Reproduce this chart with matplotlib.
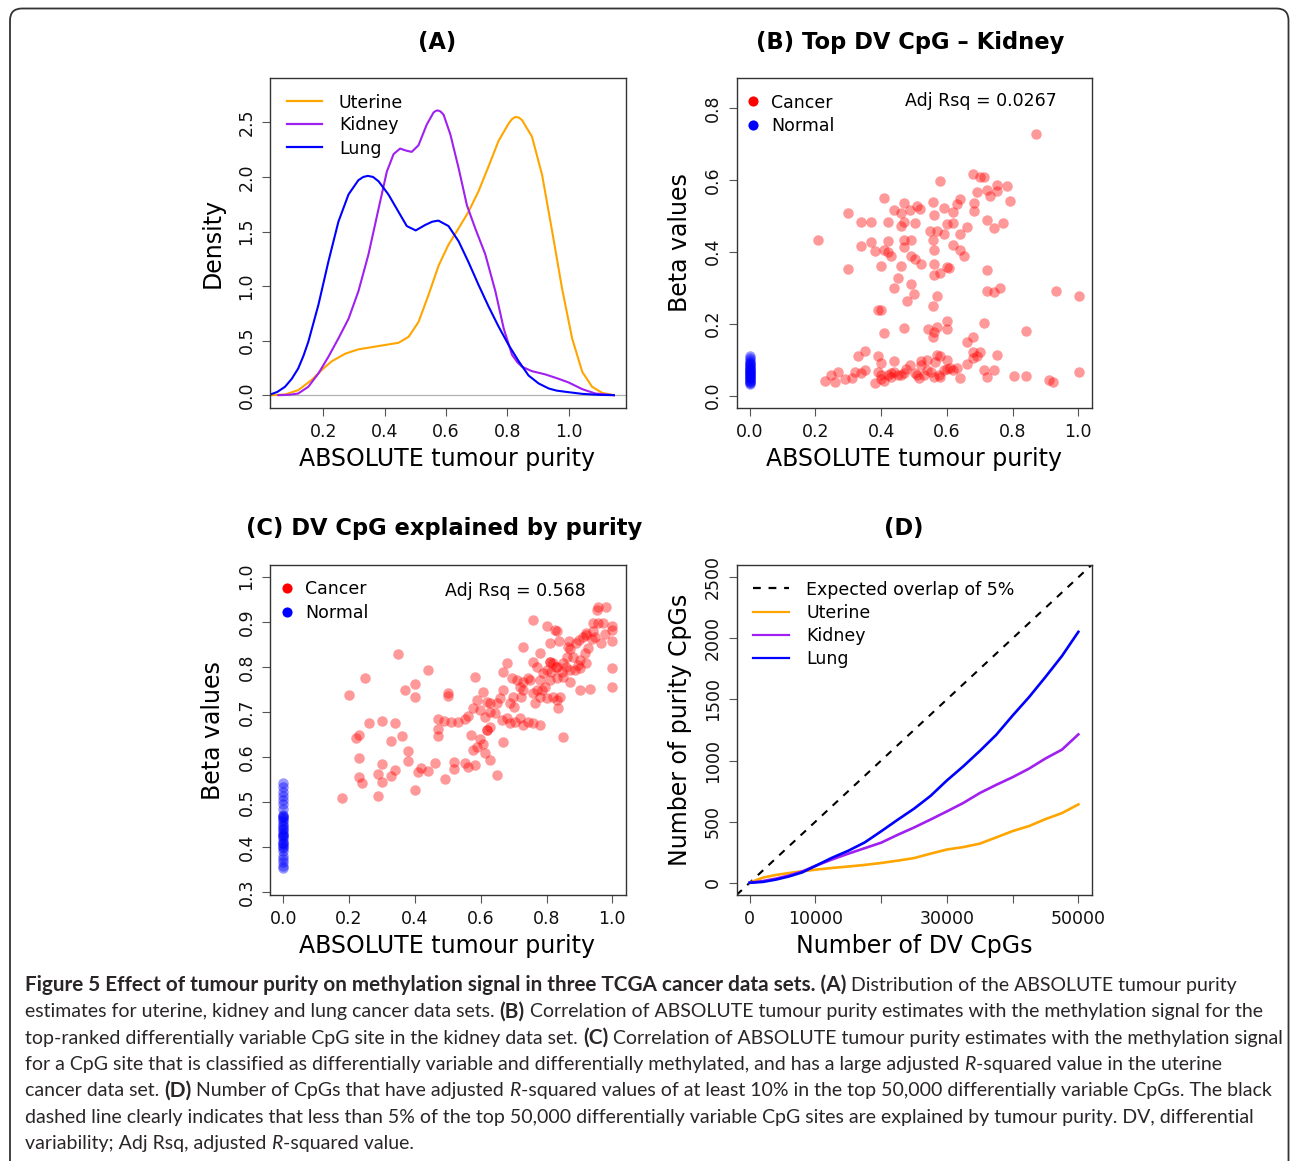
import matplotlib
matplotlib.use("Agg")
import matplotlib.pyplot as plt
from matplotlib.lines import Line2D
from matplotlib.patches import FancyBboxPatch
from matplotlib.transforms import IdentityTransform
from matplotlib.font_manager import FontProperties

plt.rcParams['font.family'] = ['DejaVu Sans']

W, H, DPI = 1290, 1161, 100

# ---------------- data ----------------
# (A) density of ABSOLUTE purity
lung_x = [0.026, 0.050, 0.075, 0.097, 0.118, 0.135, 0.151, 0.184, 0.216, 0.249, 0.282, 0.314, 0.330,
          0.345, 0.362, 0.380, 0.412, 0.445, 0.472, 0.501, 0.532, 0.555, 0.575, 0.608, 0.641, 0.673,
          0.706, 0.739, 0.771, 0.804, 0.837, 0.869, 0.902, 0.935, 0.960, 0.989, 1.044, 1.098, 1.147]
lung_d = [0.005, 0.030, 0.077, 0.150, 0.245, 0.360, 0.49, 0.83, 1.22, 1.59, 1.84, 1.97, 2.00,
          2.01, 2.00, 1.96, 1.84, 1.68, 1.55, 1.51, 1.56, 1.59, 1.60, 1.55, 1.41, 1.22,
          1.01, 0.81, 0.63, 0.46, 0.31, 0.18, 0.107, 0.061, 0.042, 0.031, 0.012, 0.003, 0.0]
kidney_x = [0.053, 0.090, 0.118, 0.151, 0.184, 0.216, 0.249, 0.282, 0.314, 0.347, 0.380, 0.407, 0.429,
            0.450, 0.472, 0.488, 0.510, 0.537, 0.559, 0.566, 0.573, 0.582, 0.592, 0.614, 0.641,
            0.668, 0.695, 0.728, 0.761, 0.788, 0.815, 0.833, 0.848, 0.880, 0.924, 0.967, 1.000, 1.044,
            1.087, 1.147]
kidney_d = [0.0, 0.004, 0.015, 0.077, 0.20, 0.35, 0.52, 0.70, 0.95, 1.29, 1.71, 2.05, 2.21,
            2.26, 2.24, 2.23, 2.29, 2.48, 2.59, 2.605, 2.61, 2.60, 2.57, 2.39, 2.08,
            1.74, 1.53, 1.29, 0.95, 0.61, 0.37, 0.30, 0.26, 0.22, 0.19, 0.15, 0.116, 0.055,
            0.015, 0.0]
uterine_x = [0.031, 0.075, 0.118, 0.162, 0.200, 0.227, 0.271, 0.314, 0.358, 0.401, 0.445, 0.478,
             0.510, 0.543, 0.576, 0.608, 0.641, 0.673, 0.706, 0.739, 0.771, 0.804, 0.815, 0.826,
             0.837, 0.848, 0.880, 0.913, 0.946, 0.978, 1.011, 1.044, 1.076, 1.109, 1.147]
uterine_d = [0.0, 0.006, 0.046, 0.14, 0.245, 0.31, 0.38, 0.42, 0.44, 0.46, 0.48, 0.535,
             0.67, 0.92, 1.19, 1.38, 1.53, 1.68, 1.87, 2.10, 2.33, 2.49, 2.53, 2.55,
             2.545, 2.52, 2.37, 2.02, 1.50, 0.98, 0.52, 0.214, 0.077, 0.021, 0.0]

# (B) top DV CpG - kidney : (purity, beta)
b_cancer = [
    (0.870, 0.728), (0.680, 0.617), (0.701, 0.608), (0.712, 0.608), (0.580, 0.598), (0.752, 0.586),
    (0.782, 0.583), (0.722, 0.573), (0.752, 0.570), (0.691, 0.566), (0.730, 0.555), (0.641, 0.548),
    (0.792, 0.541), (0.410, 0.550), (0.471, 0.535), (0.509, 0.527), (0.519, 0.518), (0.439, 0.515),
    (0.460, 0.509), (0.489, 0.517), (0.559, 0.537), (0.590, 0.522), (0.630, 0.532), (0.620, 0.510),
    (0.682, 0.535), (0.682, 0.512), (0.300, 0.509), (0.340, 0.483), (0.370, 0.483), (0.420, 0.482),
    (0.471, 0.482), (0.460, 0.472), (0.502, 0.480), (0.560, 0.501), (0.600, 0.476), (0.620, 0.480),
    (0.661, 0.469), (0.722, 0.487), (0.772, 0.480), (0.742, 0.465), (0.549, 0.458), (0.569, 0.458),
    (0.590, 0.448), (0.641, 0.450), (0.559, 0.432), (0.208, 0.434), (0.370, 0.427), (0.340, 0.416),
    (0.420, 0.431), (0.471, 0.434), (0.491, 0.432), (0.470, 0.414), (0.381, 0.402), (0.410, 0.405),
    (0.420, 0.399), (0.430, 0.389), (0.491, 0.389), (0.502, 0.380), (0.560, 0.406), (0.620, 0.419),
    (0.641, 0.406), (0.651, 0.389), (0.521, 0.367), (0.560, 0.367), (0.600, 0.357), (0.605, 0.355),
    (0.460, 0.359), (0.400, 0.359), (0.300, 0.352), (0.722, 0.348), (0.580, 0.341), (0.560, 0.336),
    (0.450, 0.327), (0.491, 0.311), (0.440, 0.300), (0.501, 0.283), (0.571, 0.278), (0.480, 0.263),
    (0.722, 0.290), (0.742, 0.289), (0.762, 0.300), (0.932, 0.292), (1.002, 0.276), (0.559, 0.248),
    (0.390, 0.239), (0.400, 0.238), (0.600, 0.207), (0.712, 0.203), (0.543, 0.186), (0.571, 0.190),
    (0.600, 0.186), (0.560, 0.176), (0.559, 0.162), (0.471, 0.187), (0.410, 0.174), (0.840, 0.181),
    (0.680, 0.162), (0.661, 0.148), (0.350, 0.125), (0.330, 0.110), (0.390, 0.110), (0.440, 0.097),
    (0.400, 0.091), (0.521, 0.097), (0.541, 0.100), (0.569, 0.113), (0.580, 0.111), (0.563, 0.093),
    (0.600, 0.099), (0.681, 0.121), (0.701, 0.122), (0.691, 0.109), (0.678, 0.104), (0.752, 0.114),
    (0.229, 0.042), (0.247, 0.058), (0.261, 0.039), (0.269, 0.065), (0.289, 0.046), (0.312, 0.048),
    (0.320, 0.067), (0.340, 0.063), (0.350, 0.072), (0.381, 0.035), (0.390, 0.065), (0.400, 0.056),
    (0.410, 0.042), (0.420, 0.058), (0.430, 0.063), (0.440, 0.065), (0.450, 0.058), (0.471, 0.063),
    (0.477, 0.074), (0.489, 0.084), (0.502, 0.063), (0.521, 0.084), (0.529, 0.056), (0.541, 0.072),
    (0.552, 0.065), (0.560, 0.053), (0.580, 0.051), (0.590, 0.070), (0.600, 0.074), (0.610, 0.076),
    (0.620, 0.070), (0.630, 0.076), (0.641, 0.048), (0.661, 0.089), (0.712, 0.070), (0.722, 0.051),
    (0.742, 0.071), (0.803, 0.054), (0.840, 0.054), (0.911, 0.044), (0.922, 0.037), (1.002, 0.065),
    (0.400, 0.046), (0.430, 0.051), (0.460, 0.056), (0.509, 0.058), (0.575, 0.058), (0.514, 0.048),
]
b_normal_beta = [0.111, 0.104, 0.098, 0.094, 0.090, 0.087, 0.084, 0.081, 0.078, 0.076, 0.073, 0.071,
                 0.069, 0.066, 0.064, 0.062, 0.060, 0.058, 0.055, 0.053, 0.050, 0.048, 0.045, 0.042,
                 0.040, 0.037, 0.034, 0.031]

# (C) DV CpG explained by purity : (purity, beta)
c_cancer = [
    (0.180, 0.510), (0.200, 0.737), (0.249, 0.775), (0.349, 0.829), (0.440, 0.794), (0.220, 0.642),
    (0.230, 0.649), (0.230, 0.599), (0.230, 0.555), (0.240, 0.542), (0.261, 0.676), (0.299, 0.681),
    (0.339, 0.676), (0.360, 0.647), (0.329, 0.636), (0.299, 0.585), (0.289, 0.562), (0.299, 0.545),
    (0.329, 0.557), (0.339, 0.571), (0.289, 0.514), (0.370, 0.749), (0.400, 0.762), (0.400, 0.734),
    (0.380, 0.613), (0.380, 0.592), (0.400, 0.527), (0.410, 0.566), (0.420, 0.576), (0.440, 0.570),
    (0.461, 0.586), (0.491, 0.551), (0.520, 0.588), (0.520, 0.574), (0.552, 0.586), (0.560, 0.579),
    (0.500, 0.741), (0.500, 0.736), (0.470, 0.684), (0.471, 0.662), (0.471, 0.646), (0.490, 0.679),
    (0.511, 0.678), (0.531, 0.678), (0.551, 0.684), (0.562, 0.690), (0.570, 0.650), (0.650, 0.561),
    (0.760, 0.903), (0.800, 0.891), (0.825, 0.881), (0.833, 0.879), (0.810, 0.854), (0.839, 0.858),
    (0.869, 0.858), (0.866, 0.845), (0.891, 0.853), (0.911, 0.867), (0.921, 0.875), (0.937, 0.861),
    (0.947, 0.867), (0.942, 0.898), (0.957, 0.897), (0.972, 0.897), (0.952, 0.927), (0.982, 0.933),
    (0.957, 0.933), (1.000, 0.891), (1.000, 0.882), (0.999, 0.858), (0.977, 0.873), (0.967, 0.853),
    (0.926, 0.841), (0.916, 0.830), (0.901, 0.815), (0.881, 0.823), (0.861, 0.823), (0.851, 0.808),
    (0.833, 0.800), (0.820, 0.809), (0.810, 0.811), (0.800, 0.793), (0.790, 0.786), (0.815, 0.789),
    (0.846, 0.789), (0.871, 0.793), (0.886, 0.793), (0.901, 0.797), (0.896, 0.804), (0.921, 0.808),
    (0.831, 0.775), (0.851, 0.778), (0.871, 0.767), (0.810, 0.771), (0.795, 0.756), (0.785, 0.749),
    (0.770, 0.749), (0.760, 0.741), (0.780, 0.734), (0.800, 0.730), (0.820, 0.734), (0.841, 0.734),
    (0.765, 0.719), (0.750, 0.771), (0.745, 0.775), (0.730, 0.767), (0.719, 0.756), (0.709, 0.771),
    (0.694, 0.775), (0.679, 0.808), (0.669, 0.789), (0.760, 0.811), (0.730, 0.845), (0.780, 0.830),
    (0.770, 0.800), (0.724, 0.734), (0.730, 0.749), (0.699, 0.734), (0.689, 0.719), (0.669, 0.749),
    (0.659, 0.730), (0.649, 0.719), (0.629, 0.719), (0.618, 0.723), (0.608, 0.745), (0.588, 0.726),
    (0.583, 0.778), (0.578, 0.708), (0.598, 0.704), (0.613, 0.689), (0.629, 0.700), (0.644, 0.697),
    (0.664, 0.682), (0.679, 0.686), (0.689, 0.675), (0.704, 0.678), (0.719, 0.686), (0.730, 0.671),
    (0.745, 0.678), (0.760, 0.675), (0.780, 0.671), (0.851, 0.645), (0.901, 0.749), (0.931, 0.752),
    (1.000, 0.797), (1.000, 0.756), (0.831, 0.726), (0.836, 0.708), (0.629, 0.667), (0.618, 0.660),
    (0.598, 0.641), (0.608, 0.630), (0.588, 0.623), (0.578, 0.615), (0.613, 0.608), (0.629, 0.593),
    (0.669, 0.634), (0.583, 0.582), (0.810, 0.810), (0.830, 0.800), (0.870, 0.840), (0.900, 0.860),
    (0.920, 0.870), (0.780, 0.770), (0.700, 0.710), (0.620, 0.660), (0.860, 0.800), (0.940, 0.880),
]
c_normal_beta = [0.542, 0.533, 0.522, 0.514, 0.505, 0.496, 0.485, 0.472, 0.470, 0.466, 0.465, 0.460,
                 0.455, 0.450, 0.448, 0.440, 0.440, 0.433, 0.430, 0.428, 0.425, 0.422, 0.415, 0.410,
                 0.409, 0.404, 0.400, 0.398, 0.392, 0.381, 0.374, 0.367, 0.359, 0.353]

# (D) number of purity CpGs among top DV CpGs
n_dv = [0, 2000, 4000, 6000, 8000, 10000, 12500, 15000, 17500, 20000, 22500, 25000, 27500,
        30000, 32500, 35000, 37500, 40000, 42500, 45000, 47500, 50000]
lung_n = [0, 7, 26, 52, 85, 138, 204, 262, 330, 421, 515, 606, 710,
          837, 953, 1078, 1210, 1368, 1519, 1684, 1855, 2053]
kidney_n = [0, 14, 34, 60, 93, 138, 190, 238, 283, 328, 392, 452, 517,
            584, 653, 734, 801, 864, 934, 1017, 1089, 1214]
uterine_n = [0, 42, 64, 80, 94, 107, 121, 133, 146, 162, 181, 202, 238,
             272, 292, 320, 371, 423, 464, 521, 570, 641]
expected_rate = 0.05

purity_ticks = [0.0, 0.2, 0.4, 0.6, 0.8, 1.0]
density_xticks = [0.2, 0.4, 0.6, 0.8, 1.0]
density_yticks = [0.0, 0.5, 1.0, 1.5, 2.0, 2.5]
b_yticks = [0.0, 0.2, 0.4, 0.6, 0.8]
c_yticks = [0.3, 0.4, 0.5, 0.6, 0.7, 0.8, 0.9, 1.0]
d_xticks = [0, 10000, 20000, 30000, 40000, 50000]
d_xticklabels = ['0', '10000', '', '30000', '', '50000']
d_yticks = [0, 500, 1000, 1500, 2000, 2500]

ORANGE, PURPLE, BLUE, RED = '#FFA500', '#A020F0', '#0000FF', '#FF0000'

# ---------------- figure ----------------
fig = plt.figure(figsize=(W / DPI, H / DPI), dpi=DPI)
fig.patch.set_facecolor('white')


def fx(x):
    return x / W


def fy(y):
    return 1 - y / H


BOX = {'A': (270, 78, 625.5, 407.5), 'B': (736.5, 78, 1091.5, 407.5),
       'C': (270, 565, 625.5, 895), 'D': (736.5, 565, 1091.5, 895)}

TICK_FS, LEG_FS, LAB_FS, TIT_FS = 12.5, 12.5, 17, 16.3


def make_ax(key):
    L, T, R, B = BOX[key]
    ax = fig.add_axes([L / W, 1 - B / H, (R - L) / W, (B - T) / H])
    for s in ax.spines.values():
        s.set_color('#333333')
        s.set_linewidth(1.0)
    ax.tick_params(direction='out', length=5.5, width=0.8, color='#555555',
                   labelsize=TICK_FS, labelcolor='#111111')
    ax.tick_params(axis='x', pad=5.5)
    ax.tick_params(axis='y', pad=5, labelrotation=90)
    return ax


def finish_ax(ax, key, xlabel, xl_pos, ylabel, yl_pos, title, t_pos):
    L, T, R, B = BOX[key]
    for lab in ax.get_yticklabels():
        lab.set_va('center')
    ax.set_xlabel(xlabel, fontsize=LAB_FS)
    ax.xaxis.set_label_coords((xl_pos[0] - L) / (R - L), (B - xl_pos[1]) / (B - T))
    ax.xaxis.label.set_va('center')
    ax.set_ylabel(ylabel, fontsize=LAB_FS)
    ax.yaxis.set_label_coords((yl_pos[0] - L) / (R - L), (B - yl_pos[1]) / (B - T))
    ax.yaxis.label.set_va('center')
    ax.yaxis.label.set_ha('center')
    fig.text(fx(t_pos[0]), fy(t_pos[1]), title, ha='center', va='center',
             fontsize=TIT_FS, fontweight='bold')


def legend_lines(items, x1, x2, xt, y0, dy, lw=1.6):
    for i, (label, color, ls) in enumerate(items):
        y = y0 + i * dy
        fig.add_artist(Line2D([fx(x1), fx(x2)], [fy(y), fy(y)], transform=fig.transFigure,
                              color=color, lw=lw, ls=ls))
        fig.text(fx(xt), fy(y + 1.5), label, ha='left', va='center', fontsize=LEG_FS)


def legend_dots(items, xd, xt, y0, dy):
    for i, (label, color) in enumerate(items):
        y = y0 + i * dy
        fig.add_artist(Line2D([fx(xd)], [fy(y)], transform=fig.transFigure, marker='o',
                              ms=7.3, color=color, mew=0, ls='none'))
        fig.text(fx(xt), fy(y + 1.5), label, ha='left', va='center', fontsize=LEG_FS)


# ---- (A)
axA = make_ax('A')
axA.axhline(0, color='#b0b0b0', lw=0.9, zorder=1)
axA.plot(uterine_x, uterine_d, color=ORANGE, lw=1.5, zorder=2)
axA.plot(kidney_x, kidney_d, color=PURPLE, lw=1.5, zorder=2)
axA.plot(lung_x, lung_d, color=BLUE, lw=1.5, zorder=2)
axA.set_xlim(0.026, 1.185)
axA.set_ylim(-0.113, 2.907)
axA.set_xticks(density_xticks)
axA.set_xticklabels([f'{v:.1f}' for v in density_xticks])
axA.set_yticks(density_yticks)
axA.set_yticklabels([f'{v:.1f}' for v in density_yticks])
finish_ax(axA, 'A', 'ABSOLUTE tumour purity', (447, 459), 'Density', (213, 243), '(A)', (437, 43))
legend_lines([('Uterine', ORANGE, '-'), ('Kidney', PURPLE, '-'), ('Lung', BLUE, '-')],
             287, 322, 339, 101, 23)

# ---- (B)
axB = make_ax('B')
bx, by = zip(*b_cancer)
axB.scatter([0.0] * len(b_normal_beta), b_normal_beta, s=57, color=BLUE, alpha=0.4, linewidths=0, zorder=2)
axB.scatter(bx, by, s=57, color=RED, alpha=0.4, linewidths=0, zorder=2)
axB.set_xlim(-0.04, 1.04)
axB.set_ylim(-0.033, 0.883)
axB.set_xticks(purity_ticks)
axB.set_xticklabels([f'{v:.1f}' for v in purity_ticks])
axB.set_yticks(b_yticks)
axB.set_yticklabels([f'{v:.1f}' for v in b_yticks])
finish_ax(axB, 'B', 'ABSOLUTE tumour purity', (914, 459), 'Beta values', (680, 243),
          '(B) Top DV CpG \u2013 Kidney', (910, 42))
legend_dots([('Cancer', RED), ('Normal', BLUE)], 753, 771, 101, 23.5)
fig.text(fx(905), fy(101.5), 'Adj Rsq = 0.0267', ha='left', va='center', fontsize=LEG_FS)

# ---- (C)
axC = make_ax('C')
cx, cy = zip(*c_cancer)
axC.scatter([0.0] * len(c_normal_beta), c_normal_beta, s=57, color=BLUE, alpha=0.4, linewidths=0, zorder=2)
axC.scatter(cx, cy, s=57, color=RED, alpha=0.4, linewidths=0, zorder=2)
axC.set_xlim(-0.04, 1.04)
axC.set_ylim(0.294, 1.026)
axC.set_xticks(purity_ticks)
axC.set_xticklabels([f'{v:.1f}' for v in purity_ticks])
axC.set_yticks(c_yticks)
axC.set_yticklabels([f'{v:.1f}' for v in c_yticks])
finish_ax(axC, 'C', 'ABSOLUTE tumour purity', (447, 946), 'Beta values', (213, 731),
          '(C) DV CpG explained by purity', (444, 529))
legend_dots([('Cancer', RED), ('Normal', BLUE)], 287, 305, 588, 23.5)
fig.text(fx(445), fy(590.5), 'Adj Rsq = 0.568', ha='left', va='center', fontsize=LEG_FS)

# ---- (D)
axD = make_ax('D')
axD.axline((0, 0), slope=expected_rate, color='black', lw=1.5, ls=(0, (3.5, 3.5)), zorder=2)
axD.plot(n_dv, uterine_n, color=ORANGE, lw=1.9, zorder=3)
axD.plot(n_dv, kidney_n, color=PURPLE, lw=1.9, zorder=3)
axD.plot(n_dv, lung_n, color=BLUE, lw=1.9, zorder=3)
axD.set_xlim(-2000, 52000)
axD.set_ylim(-100, 2600)
axD.set_xticks(d_xticks)
axD.set_xticklabels(d_xticklabels)
axD.set_yticks(d_yticks)
axD.set_yticklabels([str(v) for v in d_yticks])
finish_ax(axD, 'D', 'Number of DV CpGs', (914, 946), 'Number of purity CpGs', (680, 730), '(D)', (904, 529))
legend_lines([('Expected overlap of 5%', 'black', (0, (3.5, 3.5))), ('Uterine', ORANGE, '-'),
              ('Kidney', PURPLE, '-'), ('Lung', BLUE, '-')], 753, 789, 806, 588.5, 23)

# ---- outer rounded frame
frame = FancyBboxPatch((10, -30), 1278.5, H - 8.5 + 30, boxstyle='round,pad=0,rounding_size=12',
                       transform=IdentityTransform(), fill=False, ec='#333333', lw=1.3)
fig.add_artist(frame)

# ---- caption
CAP_FONT = 'Lato'
CAP_COLOR = '#2a2627'
caption = [
    [('b', 'Figure 5 Effect of tumour purity on methylation signal in three TCGA cancer data sets. (A)'),
     ('r', ' Distribution of the ABSOLUTE tumour purity')],
    [('r', 'estimates for uterine, kidney and lung cancer data sets. '), ('b', '(B)'),
     ('r', ' Correlation of ABSOLUTE tumour purity estimates with the methylation signal for the')],
    [('r', 'top-ranked differentially variable CpG site in the kidney data set. '), ('b', '(C)'),
     ('r', ' Correlation of ABSOLUTE tumour purity estimates with the methylation signal')],
    [('r', 'for a CpG site that is classified as differentially variable and differentially methylated, '
           'and has a large adjusted '), ('i', 'R'), ('r', '-squared value in the uterine')],
    [('r', 'cancer data set. '), ('b', '(D)'), ('r', ' Number of CpGs that have adjusted '), ('i', 'R'),
     ('r', '-squared values of at least 10% in the top 50,000 differentially variable CpGs. The black')],
    [('r', 'dashed line clearly indicates that less than 5% of the top 50,000 differentially variable '
           'CpG sites are explained by tumour purity. DV, differential')],
    [('r', 'variability; Adj Rsq, adjusted '), ('i', 'R'), ('r', '-squared value.')],
]

renderer = fig.canvas.get_renderer()


def cap_fp(style, size):
    return FontProperties(family=CAP_FONT, weight='bold' if style == 'b' else 'normal',
                          style='italic' if style == 'i' else 'normal', size=size)


def text_w(s, fp):
    if not s:
        return 0.0
    w1 = renderer.get_text_width_height_descent('|' + s + '|', fp, ismath=False)[0]
    w0 = renderer.get_text_width_height_descent('||', fp, ismath=False)[0]
    return w1 - w0


base = 12.0
ref_w = sum(text_w(s, cap_fp(st, base)) for st, s in caption[5])
cap_size = base * (1247 - 25) / ref_w
# bold runs: fit the first caption line to its reference width
reg_w1 = sum(text_w(s, cap_fp(st, cap_size)) for st, s in caption[0] if st != 'b')
bold_w1 = sum(text_w(s, cap_fp(st, cap_size)) for st, s in caption[0] if st == 'b')
bold_size = cap_size * (1246 - 25 - reg_w1) / bold_w1

for i, line in enumerate(caption):
    x = 25.0
    yb = 991 + i * 26.3
    for st, s in line:
        fp = cap_fp(st, bold_size if st == 'b' else cap_size)
        sp = text_w(' ', fp)
        lead = len(s) - len(s.lstrip(' '))
        trail = len(s) - len(s.rstrip(' '))
        core = s.strip(' ')
        x += lead * sp
        fig.text(fx(x), fy(yb), core, fontproperties=fp, ha='left', va='baseline', color=CAP_COLOR)
        x += text_w(core, fp) + trail * sp

fig.savefig('out.png', dpi=DPI, facecolor='white')
